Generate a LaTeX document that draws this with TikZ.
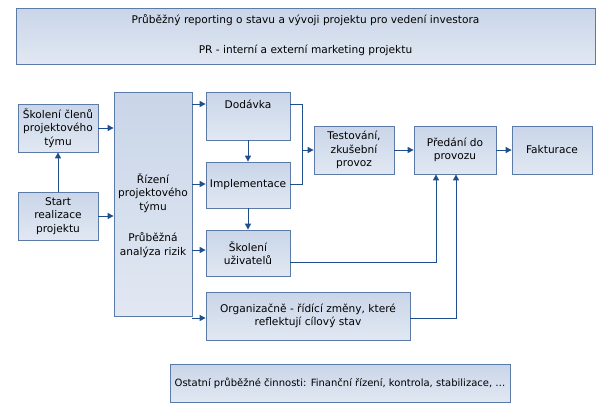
\documentclass[tikz,border=0pt]{standalone}
\usepackage{fontspec}
\setmainfont{DejaVu Sans}
\usetikzlibrary{arrows.meta}
\definecolor{bfill}{HTML}{C9D5E8}
\definecolor{bdraw}{HTML}{5B7BA6}
\definecolor{arr}{HTML}{1F4E8C}
\begin{document}
\begin{tikzpicture}[x=1pt,y=-1pt,
  fnt/.style={font=\fontsize{10.6}{13.5}\selectfont},
  box/.style={draw=bdraw,line width=0.8pt,top color=bfill,bottom color=bfill!55!white,fnt,align=center},
  con/.style={draw=arr,line width=1pt,-{Triangle[length=6pt,width=6pt]}}]
\useasboundingbox (0,0) rectangle (605,416);
\newcommand\bx[6]{\node[box,minimum width=#4-#2,minimum height=#5-#3,inner sep=0pt] (#1) at ({(#2+#4)/2},{(#3+#5)/2}) {#6};}
\node[box,minimum width=579,minimum height=56,inner sep=0pt] (top) at (305.5,36) {};
\node[fnt] (t1) at (305.5,20) {Průběžný reporting o stavu a vývoji projektu pro vedení investora};
\node[fnt] (t2) at (305.5,50) {PR - interní a externí marketing projektu};
\bx{sk}{18}{104}{98}{152}{Školení členů\\projektového\\týmu}
\bx{st}{18}{192}{98}{240}{Start\\realizace\\projektu}
\node[box,minimum width=78,minimum height=224,inner sep=1pt] (ri) at (153,204) {};
\node[fnt,align=center] (ri1) at (153,193) {Řízení\\projektového\\týmu};
\node[fnt,align=center] (ri2) at (153,245) {Průběžná\\analýza rizik};
\node[box,minimum width=84,minimum height=48,inner sep=0pt] (do) at (248,116) {};
\node[fnt] (dot) at (248,104) {Dodávka};
\bx{im}{206}{162}{290}{208}{Implementace}
\bx{su}{206}{230}{290}{276}{Školení\\uživatelů}
\bx{or}{206}{292}{410}{340}{Organizačně - řídící změny, které\\reflektují cílový stav}
\bx{te}{314}{126}{394}{174}{Testování,\\zkušební\\provoz}
\bx{pr}{414}{126}{496}{174}{Předání do\\provozu}
\bx{fa}{512}{126}{592}{174}{Fakturace}
\node[box,minimum width=340,minimum height=38,inner sep=0pt,font=\fontsize{10}{12}\selectfont] (ot) at (340,383) {Ostatní průběžné činnosti: Finanční řízení,  kontrola, stabilizace, …};
\draw[con] (sk.east|-0,128) -- (ri.west|-0,128);
\draw[con] (st.east|-0,216) -- (ri.west|-0,216);
\draw[con] (st) -- (sk);
\draw[con] (ri.east|-0,104) -- (do.west|-0,104);
\draw[con] (ri.east|-0,184) -- (im.west|-0,184);
\draw[con] (ri.east|-0,250) -- (su.west|-0,250);
\draw[con] (ri.east|-0,318) -- (or.west|-0,318);
\draw[con] (do) -- (im);
\draw[con] (im) -- (su);
\coordinate (jn) at (302,150);
\draw[draw=arr,line width=1pt] (do.east|-0,104) -| (jn);
\draw[draw=arr,line width=1pt] (im.east|-0,184) -| (jn);
\draw[con] (jn) -- (te.west|-jn);
\draw[con] (te) -- (pr);
\draw[con] (pr) -- (fa);
\draw[con] (su.east|-0,262) -| (436,0|-pr.south);
\draw[con] (or.east|-0,318) -| (456,0|-pr.south);
\end{tikzpicture}
\end{document}
